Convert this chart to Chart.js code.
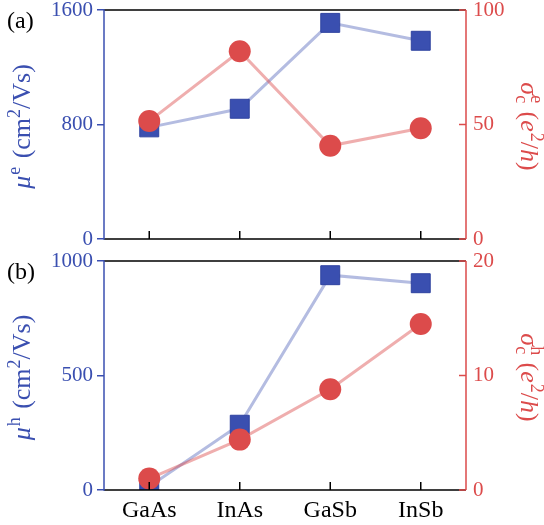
<!DOCTYPE html>
<html><head><meta charset="utf-8">
<script src="https://cdn.jsdelivr.net/npm/chart.js@4/dist/chart.umd.min.js"></script>
<style>
html,body{margin:0;padding:0;background:#fff;}
#wrap{position:relative;width:544px;height:525px;overflow:hidden;}
canvas{position:absolute;left:0;}
</style></head><body>
<div id="wrap">
<canvas id="ca" width="544" height="250" style="top:0;width:544px;height:250px"></canvas>
<canvas id="cb" width="544" height="275" style="top:250px;width:544px;height:275px"></canvas>
</div>
<script>
// ---- data ----
const categories = ['GaAs', 'InAs', 'GaSb', 'InSb'];
const muE = [780, 910, 1510, 1385];        // cm^2/Vs, panel (a) left axis
const sigmaE = [51.5, 82, 40.7, 48.4];     // e^2/h, panel (a) right axis
const muH = [15, 285, 938, 903];           // cm^2/Vs, panel (b) left axis
const sigmaH = [1.0, 4.4, 8.8, 14.5];      // e^2/h, panel (b) right axis
const muETicks = [0, 800, 1600];
const sigmaETicks = [0, 50, 100];
const muHTicks = [0, 500, 1000];
const sigmaHTicks = [0, 10, 20];

// ---- style ----
const BLUE = '#3a4fb0';
const RED = '#dc4b4b';
const BLUE_LINE = 'rgba(58,79,176,0.38)';
const RED_LINE = 'rgba(220,75,75,0.45)';
const FONT = "'Liberation Serif', 'Times New Roman', serif";
const TICK_SIZE = 21;
const CAT_SIZE = 24;
const TITLE_SIZE = 26;

function drawRich(ctx, segs, cx, cy, rot, color) {
  ctx.save();
  ctx.translate(cx, cy);
  ctx.rotate(rot);
  ctx.fillStyle = color;
  ctx.textBaseline = 'alphabetic';
  ctx.textAlign = 'left';
  let W = 0;
  const widths = segs.map(s => {
    ctx.font = (s.i ? 'italic ' : '') + s.s + 'px ' + FONT;
    const w = ctx.measureText(s.t).width + (s.gap || 0);
    if (!s.back) W += w;
    return w;
  });
  let x = -W / 2;
  segs.forEach((s, k) => {
    ctx.font = (s.i ? 'italic ' : '') + s.s + 'px ' + FONT;
    ctx.fillText(s.t, x, s.dy || 0);
    if (!s.back) x += widths[k];
  });
  ctx.restore();
}

function muTitle(sup) {
  const S = TITLE_SIZE, s2 = Math.round(TITLE_SIZE * 0.7);
  return [
    {t: 'μ', s: S, i: true, gap: 1},
    {t: sup, s: s2, dy: -S * 0.4, gap: 2},
    {t: ' (cm', s: S},
    {t: '2', s: s2, dy: -S * 0.4},
    {t: '/Vs)', s: S}
  ];
}
function sigmaTitle(sup) {
  const S = TITLE_SIZE, s2 = Math.round(TITLE_SIZE * 0.7);
  return [
    {t: 'σ', s: S, i: true},
    {t: sup, s: s2, dy: -S * 0.4, back: true},
    {t: 'c', s: s2, dy: S * 0.2, gap: 2},
    {t: ' (', s: S},
    {t: 'e', s: S, i: true, gap: 1},
    {t: '2', s: s2, dy: -S * 0.4},
    {t: '/', s: S},
    {t: 'h', s: S, i: true},
    {t: ')', s: S}
  ];
}

function noPad(s) { s.paddingTop = 0; s.paddingBottom = 0; s.paddingLeft = 0; s.paddingRight = 0; }

function makePanel(id, panelLabel, leftData, rightData, leftTicks, rightTicks, showCats, topPad, xHeight, sup) {
  const decor = {
    id: 'decor' + id,
    afterDraw(chart) {
      const ctx = chart.ctx;
      const a = chart.chartArea;
      const xs = chart.scales.x, yr = chart.scales.y1;
      ctx.save();
      ctx.lineWidth = 1.5;
      ctx.strokeStyle = '#000';
      ctx.beginPath();
      ctx.moveTo(a.left, a.top); ctx.lineTo(a.right, a.top);
      ctx.moveTo(a.left, a.bottom); ctx.lineTo(a.right, a.bottom);
      ctx.stroke();
      ctx.beginPath();
      categories.forEach((c, i) => {
        const px = xs.getPixelForValue(i);
        ctx.moveTo(px, a.bottom); ctx.lineTo(px, a.bottom - 8);
      });
      ctx.stroke();
      ctx.strokeStyle = RED;
      ctx.beginPath();
      ctx.moveTo(a.right, a.top); ctx.lineTo(a.right, a.bottom);
      rightTicks.forEach(v => {
        const py = yr.getPixelForValue(v);
        ctx.moveTo(a.right, py); ctx.lineTo(a.right - 7, py);
      });
      ctx.stroke();
      ctx.strokeStyle = BLUE;
      ctx.beginPath();
      ctx.moveTo(a.left, a.top - 0.75); ctx.lineTo(a.left, a.bottom + 0.75);
      ctx.stroke();
      ctx.restore();
      ctx.save();
      ctx.fillStyle = '#000';
      ctx.font = '24px ' + FONT;
      ctx.textBaseline = 'alphabetic';
      ctx.textAlign = 'left';
      ctx.fillText(panelLabel, 7, a.top + 18);
      ctx.restore();
      const cy = (a.top + a.bottom) / 2 + 2;
      drawRich(ctx, muTitle(sup), 30, cy, -Math.PI / 2, BLUE);
      drawRich(ctx, sigmaTitle(sup), 521, cy, Math.PI / 2, RED);
    }
  };

  return new Chart(document.getElementById(id), {
    type: 'line',
    data: {
      labels: categories,
      datasets: [
        {
          label: 'sigma',
          data: rightData,
          yAxisID: 'y1',
          borderColor: RED_LINE,
          borderWidth: 3,
          pointStyle: 'circle',
          pointRadius: 11,
          pointHoverRadius: 11,
          pointBackgroundColor: RED,
          pointBorderColor: RED,
          pointBorderWidth: 0,
          tension: 0
        },
        {
          label: 'mu',
          data: leftData,
          yAxisID: 'y',
          borderColor: BLUE_LINE,
          borderWidth: 3,
          pointStyle: 'rect',
          pointRadius: 13.4,
          pointHoverRadius: 13.4,
          pointBackgroundColor: BLUE,
          pointBorderColor: '#2f43a0',
          pointBorderWidth: 1,
          tension: 0
        }
      ]
    },
    options: {
      responsive: false,
      animation: false,
      devicePixelRatio: 1,
      events: [],
      layout: {padding: {top: topPad, bottom: 0, left: 0, right: 0}, autoPadding: false},
      plugins: {legend: {display: false}, tooltip: {enabled: false}},
      scales: {
        x: {
          type: 'category',
          offset: true,
          grid: {display: false, drawTicks: false},
          border: {display: false},
          ticks: {display: showCats, color: '#000', font: {family: FONT, size: CAT_SIZE}, padding: 6, maxRotation: 0, autoSkip: false},
          afterFit(s) { s.height = xHeight; noPad(s); }
        },
        y: {
          position: 'left',
          min: leftTicks[0], max: leftTicks[leftTicks.length - 1],
          afterBuildTicks(s) { s.ticks = leftTicks.map(v => ({value: v})); },
          grid: {display: true, drawOnChartArea: false, drawTicks: true, tickLength: 7, color: BLUE, tickColor: BLUE, lineWidth: 1.5},
          border: {display: false},
          ticks: {color: BLUE, font: {family: FONT, size: TICK_SIZE}, padding: 4, callback: v => String(v)},
          afterFit(s) { s.width = 104; noPad(s); }
        },
        y1: {
          position: 'right',
          min: rightTicks[0], max: rightTicks[rightTicks.length - 1],
          afterBuildTicks(s) { s.ticks = rightTicks.map(v => ({value: v})); },
          grid: {display: false, drawTicks: false},
          border: {display: false},
          ticks: {color: RED, font: {family: FONT, size: TICK_SIZE}, padding: 7, callback: v => String(v)},
          afterFit(s) { s.width = 78; noPad(s); }
        }
      }
    },
    plugins: [decor]
  });
}

makePanel('ca', '(a)', muE, sigmaE, muETicks, sigmaETicks, false, 10, 11, 'e');
makePanel('cb', '(b)', muH, sigmaH, muHTicks, sigmaHTicks, true, 11, 35, 'h');
</script>
</body></html>
